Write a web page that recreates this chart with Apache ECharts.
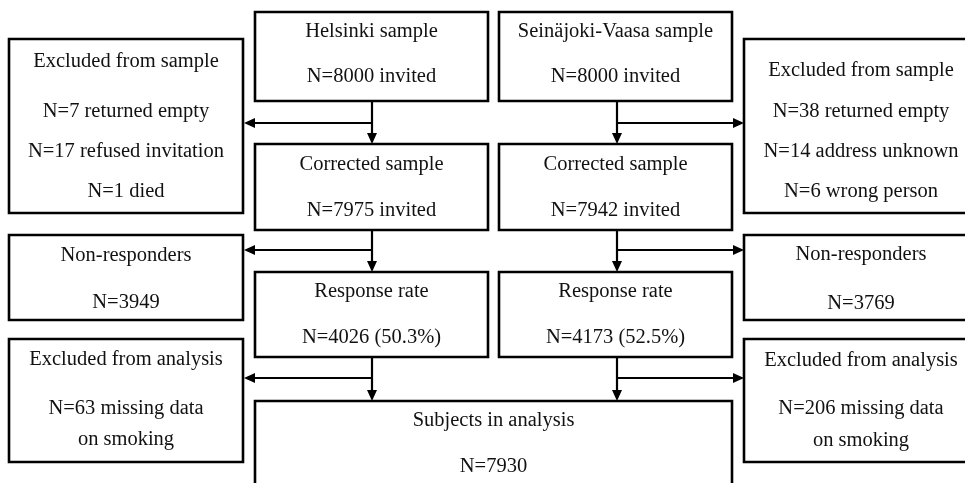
<!DOCTYPE html>
<html>
<head>
<meta charset="utf-8">
<script src="https://cdn.jsdelivr.net/npm/echarts@6/dist/echarts.min.js"></script>
<style>html,body{margin:0;padding:0;background:#fff;}#c{width:965px;height:483px;}</style>
</head>
<body>
<div id="c"></div>
<script>
// ---- data ----
const helsinkiFlow = [8000, 7975, 4026];
const vaasaFlow = [8000, 7942, 4173];
const responseRates = [50.3, 52.5];
const excludedSampleH = [7, 17, 1];
const excludedSampleHReasons = ['returned empty', 'refused invitation', 'died'];
const excludedSampleV = [38, 14, 6];
const excludedSampleVReasons = ['returned empty', 'address unknown', 'wrong person'];
const nonResponders = [3949, 3769];
const missingSmoking = [63, 206];
const subjectsInAnalysis = 7930;

// ---- box texts ----
const boxTexts = [
  ['Helsinki sample', 'N=' + helsinkiFlow[0] + ' invited'],
  ['Seinäjoki-Vaasa sample', 'N=' + vaasaFlow[0] + ' invited'],
  ['Excluded from sample'].concat(excludedSampleH.map((n, i) => 'N=' + n + ' ' + excludedSampleHReasons[i])),
  ['Excluded from sample'].concat(excludedSampleV.map((n, i) => 'N=' + n + ' ' + excludedSampleVReasons[i])),
  ['Corrected sample', 'N=' + helsinkiFlow[1] + ' invited'],
  ['Corrected sample', 'N=' + vaasaFlow[1] + ' invited'],
  ['Non-responders', 'N=' + nonResponders[0]],
  ['Non-responders', 'N=' + nonResponders[1]],
  ['Response rate', 'N=' + helsinkiFlow[2] + ' (' + responseRates[0] + '%)'],
  ['Response rate', 'N=' + vaasaFlow[2] + ' (' + responseRates[1] + '%)'],
  ['Excluded from analysis', 'N=' + missingSmoking[0] + ' missing data', 'on smoking'],
  ['Excluded from analysis', 'N=' + missingSmoking[1] + ' missing data', 'on smoking'],
  ['Subjects in analysis', 'N=' + subjectsInAnalysis]
];

// ---- layout (diagram units) ----
const boxRects = [
  [255, 12, 488, 101], [499, 12, 732, 101],
  [9, 39, 243, 213], [744, 39, 978, 213],
  [255, 144, 488, 230], [499, 144, 732, 230],
  [9, 235, 243, 320], [744, 235, 978, 320],
  [255, 272, 488, 357], [499, 272, 732, 357],
  [9, 339, 243, 462], [744, 339, 978, 462],
  [255, 401, 732, 495]
];
const boxLineY = [
  [32, 77], [32, 77],
  [62, 112, 152, 192], [71, 112, 152, 192],
  [165, 211], [165, 211],
  [256, 303], [255, 304],
  [292, 338], [292, 338],
  [360, 409, 440], [361, 409, 441],
  [421, 467]
];
const arrows = [
  [372, 101, 372, 144], [372, 123, 244, 123],
  [372, 230, 372, 272], [372, 250, 244, 250],
  [372, 357, 372, 401], [372, 378, 244, 378],
  [617, 101, 617, 144], [617, 123, 744, 123],
  [617, 230, 617, 272], [617, 250, 744, 250],
  [617, 357, 617, 401], [617, 378, 744, 378]
];

const chart = echarts.init(document.getElementById('c'), null, {renderer: 'canvas'});
chart.setOption({
  backgroundColor: '#fff',
  animation: false,
  grid: {left: 0, right: 0, top: 0, bottom: 0},
  xAxis: {type: 'value', min: 0, max: 965, show: false},
  yAxis: {type: 'value', min: 0, max: 483, inverse: true, show: false},
  series: [
    {
      type: 'custom',
      coordinateSystem: 'cartesian2d',
      clip: false,
      data: boxRects,
      encode: {x: [0, 2], y: [1, 3]},
      renderItem: function (params, api) {
        const i = params.dataIndex;
        const p0 = api.coord([api.value(0), api.value(1)]);
        const p1 = api.coord([api.value(2), api.value(3)]);
        const cx = (p0[0] + p1[0]) / 2;
        const children = [{
          type: 'rect',
          shape: {x: p0[0], y: p0[1], width: p1[0] - p0[0], height: p1[1] - p0[1]},
          style: {fill: '#fff', stroke: '#000', lineWidth: 2.6}
        }];
        boxTexts[i].forEach(function (t, k) {
          const py = api.coord([0, boxLineY[i][k]])[1];
          children.push({
            type: 'text',
            style: {
              text: t, x: cx, y: py, align: 'center', verticalAlign: 'middle',
              fontFamily: '"Liberation Serif", "Times New Roman", serif',
              fontSize: 20.5, fill: '#111'
            }
          });
        });
        return {type: 'group', children: children};
      }
    },
    {
      type: 'custom',
      coordinateSystem: 'cartesian2d',
      clip: false,
      data: arrows,
      encode: {x: [0, 2], y: [1, 3]},
      renderItem: function (params, api) {
        const a = api.coord([api.value(0), api.value(1)]);
        const b = api.coord([api.value(2), api.value(3)]);
        const dx = b[0] - a[0], dy = b[1] - a[1];
        const len = Math.sqrt(dx * dx + dy * dy);
        const ux = dx / len, uy = dy / len;
        const hl = 11, hw = 5;
        const base = [b[0] - ux * hl, b[1] - uy * hl];
        return {
          type: 'group',
          children: [
            {type: 'line', shape: {x1: a[0], y1: a[1], x2: base[0], y2: base[1]},
             style: {stroke: '#000', lineWidth: 2.2}},
            {type: 'polygon', shape: {points: [b,
              [base[0] - uy * hw, base[1] + ux * hw],
              [base[0] + uy * hw, base[1] - ux * hw]]},
             style: {fill: '#000'}}
          ]
        };
      }
    }
  ]
});
</script>
</body>
</html>
